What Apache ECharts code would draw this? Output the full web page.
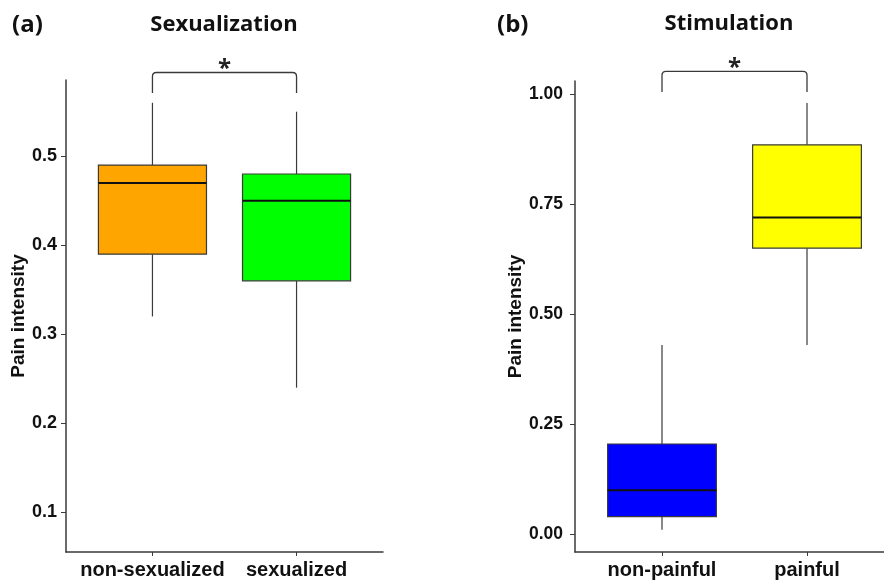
<!DOCTYPE html>
<html>
<head>
<meta charset="utf-8">
<script src="https://cdn.jsdelivr.net/npm/echarts@6/dist/echarts.min.js"></script>
<style>html,body{margin:0;padding:0;background:#fff}#c{width:884px;height:580px}</style>
</head>
<body>
<div id="c"></div>
<script>
// ---- data ----
const catsA = ['non-sexualized', 'sexualized'];
// [min, Q1, median, Q3, max]
const boxA = [[0.32, 0.39, 0.47, 0.49, 0.56], [0.24, 0.36, 0.45, 0.48, 0.55]];
const colorsA = ['#FFA500', '#00FF00'];
const ticksA = [0.1, 0.2, 0.3, 0.4, 0.5];

const catsB = ['non-painful', 'painful'];
const boxB = [[0.01, 0.04, 0.10, 0.205, 0.43], [0.43, 0.65, 0.72, 0.885, 0.98]];
const colorsB = ['#0000FF', '#FFFF00'];
const ticksB = [0, 0.25, 0.5, 0.75, 1.0];

const titleA = 'Sexualization', titleB = 'Stimulation';
const yName = 'Pain intensity';

// ---- chart ----
const chart = echarts.init(document.getElementById('c'), null, {renderer: 'canvas'});
const AX = '#3a3a3a';

function boxSeries(idx, data, colors) {
  return {
    type: 'custom', xAxisIndex: idx, yAxisIndex: idx, clip: false,
    data: data.map((d, i) => [i + 1].concat(d)),
    renderItem: function (params, api) {
      const x = api.value(0);
      const lo = api.coord([x, api.value(1)]);
      const q1 = api.coord([x, api.value(2)]);
      const md = api.coord([x, api.value(3)]);
      const q3 = api.coord([x, api.value(4)]);
      const hi = api.coord([x, api.value(5)]);
      const w = api.size([0.75, 0])[0];
      const cx = lo[0];
      const lineStyle = {stroke: AX, lineWidth: 1.2};
      return {
        type: 'group',
        children: [
          {type: 'line', shape: {x1: cx, y1: hi[1], x2: cx, y2: q3[1]}, style: lineStyle},
          {type: 'line', shape: {x1: cx, y1: q1[1], x2: cx, y2: lo[1]}, style: lineStyle},
          {type: 'rect', shape: {x: cx - w / 2, y: q3[1], width: w, height: q1[1] - q3[1]},
            style: {fill: colors[params.dataIndex], stroke: AX, lineWidth: 1.2}},
          {type: 'line', shape: {x1: cx - w / 2, y1: md[1], x2: cx + w / 2, y2: md[1]},
            style: {stroke: '#111', lineWidth: 2}}
        ]
      };
    }
  };
}

function bracketSeries(idx, yLow, yTop) {
  return {
    type: 'custom', xAxisIndex: idx, yAxisIndex: idx, clip: false,
    data: [[1, 2, yLow, yTop]],
    renderItem: function (params, api) {
      const a = api.coord([api.value(0), api.value(2)]);
      const b = api.coord([api.value(0), api.value(3)]);
      const c = api.coord([api.value(1), api.value(3)]);
      const d = api.coord([api.value(1), api.value(2)]);
      const r = 4;
      const path = 'M' + a[0] + ' ' + a[1] +
        ' L' + b[0] + ' ' + (b[1] + r) +
        ' Q' + b[0] + ' ' + b[1] + ' ' + (b[0] + r) + ' ' + b[1] +
        ' L' + (c[0] - r) + ' ' + c[1] +
        ' Q' + c[0] + ' ' + c[1] + ' ' + c[0] + ' ' + (c[1] + r) +
        ' L' + d[0] + ' ' + d[1];
      return {
        type: 'group',
        children: [
          {type: 'path', shape: {pathData: path},
            style: {stroke: AX, lineWidth: 1.3, fill: null}},
          {type: 'text', x: (b[0] + c[0]) / 2, y: b[1] - 3,
            style: {text: '*', font: 'bold 24px "Open Sans"', fill: '#222',
              align: 'center', verticalAlign: 'middle'}}
        ]
      };
    }
  };
}

function xAxis(idx, gridIdx, cats, max) {
  return {
    type: 'value', gridIndex: gridIdx, min: 0.4, max: max,
    splitLine: {show: false},
    axisLine: {show: true, onZero: false, lineStyle: {color: AX, width: 1.5}},
    axisTick: {show: true, customValues: [1, 2], length: 4, lineStyle: {color: AX}},
    axisLabel: {customValues: [1, 2], margin: 8,
      formatter: v => cats[Math.round(v) - 1],
      color: '#111', fontFamily: '"Liberation Sans", Arial', fontWeight: 'bold', fontSize: 20}
  };
}

function yAxis(gridIdx, min, max, ticks, dec, fs, gap, margin) {
  return {
    type: 'value', gridIndex: gridIdx, min: min, max: max,
    name: yName, nameLocation: 'middle', nameGap: gap, nameRotate: 90,
    nameTextStyle: {color: '#111', fontFamily: '"Liberation Sans", Arial', fontWeight: 'bold', fontSize: 19},
    splitLine: {show: false},
    axisLine: {show: true, onZero: false, lineStyle: {color: AX, width: 1.5}},
    axisTick: {show: true, customValues: ticks, length: 5, lineStyle: {color: AX}},
    axisLabel: {customValues: ticks, margin: margin, formatter: v => v.toFixed(dec),
      color: '#111', fontFamily: '"Liberation Sans", Arial', fontWeight: 'bold', fontSize: fs}
  };
}

const option = {
  animation: false,
  backgroundColor: '#fff',
  grid: [
    {left: 66, top: 80, width: 317, height: 475},
    {left: 575, top: 81, width: 309, height: 474}
  ],
  xAxis: [xAxis(0, 0, catsA, 2.6), xAxis(1, 1, catsB, 2.531)],
  yAxis: [
    yAxis(0, 0.0554, 0.5856, ticksA, 1, 18, 38, 9),
    yAxis(1, -0.0404, 1.030, ticksB, 2, 17.5, 49, 12)
  ],
  graphic: [
    {type: 'text', x: 12, y: 25, style: {text: '(a)', font: 'bold 24px "Open Sans"', fill: '#111', verticalAlign: 'middle'}},
    {type: 'text', x: 224, y: 25, style: {text: titleA, font: 'bold 22px "Open Sans"', fill: '#111', align: 'center', verticalAlign: 'middle'}},
    {type: 'text', x: 497, y: 25, style: {text: '(b)', font: 'bold 24px "Open Sans"', fill: '#111', verticalAlign: 'middle'}},
    {type: 'text', x: 729, y: 24, style: {text: titleB, font: 'bold 22px "Open Sans"', fill: '#111', align: 'center', verticalAlign: 'middle'}}
  ],
  series: [
    boxSeries(0, boxA, colorsA),
    boxSeries(1, boxB, colorsB),
    bracketSeries(0, 0.571, 0.594),
    bracketSeries(1, 1.005, 1.052)
  ]
};
chart.setOption(option);
</script>
</body>
</html>
